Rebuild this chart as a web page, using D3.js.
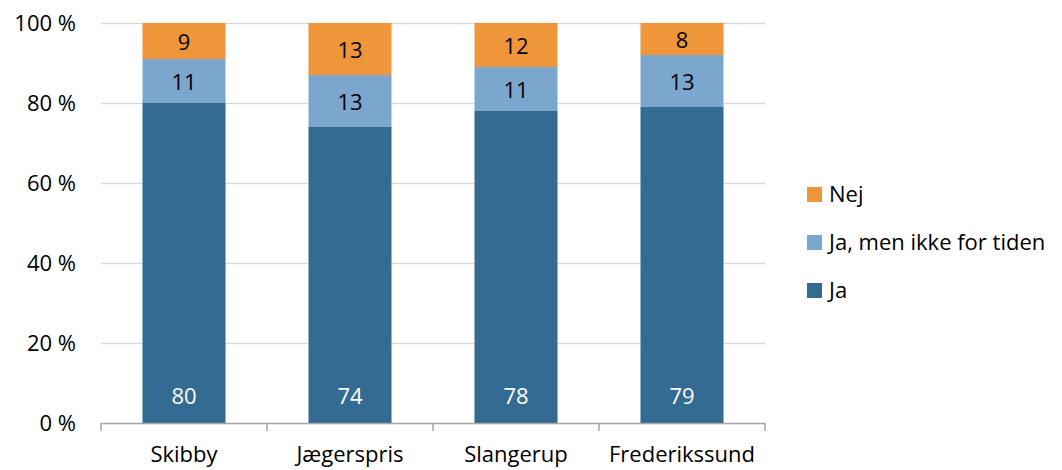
<!DOCTYPE html>
<html>
<head>
<meta charset="utf-8">
<script src="https://cdn.jsdelivr.net/npm/d3@7"></script>
<style>
  body { margin: 0; background: #fff; }
  svg text { font-family: "Open Sans", sans-serif; fill: #000; }
</style>
</head>
<body>
<div id="chart"></div>
<script>
var categories = ["Skibby", "Jægerspris", "Slangerup", "Frederikssund"];
var seriesNames = ["Ja", "Ja, men ikke for tiden", "Nej"];
var ja = [80, 74, 78, 79];
var jaMen = [11, 13, 11, 13];
var nej = [9, 13, 12, 8];
var yTicks = [0, 20, 40, 60, 80, 100];
var colors = ["#336b92", "#7ba7cf", "#f0963a"];

var width = 1062, height = 470;
var fontSize = "22px";

var svg = d3.select("#chart")
    .append("svg")
        .attr("width", width)
        .attr("height", height);

var x = d3.scaleBand()
    .domain(categories)
    .range([101, 765]);

// axis stops at 100 %, anything above is cut off
var y = d3.scaleLinear()
    .domain([0, 100])
    .range([423, 23])
    .clamp(true);

// gridlines
svg.append("g")
    .selectAll("line")
    .data(yTicks.slice(1))
    .enter().append("line")
        .attr("x1", 101)
        .attr("x2", 765)
        .attr("y1", function(d) { return y(d) + 0.5; })
        .attr("y2", function(d) { return y(d) + 0.5; })
        .style("stroke", "#d9d9d9")
        .style("stroke-width", 1.5);

// y tick labels
svg.append("g")
    .selectAll("text")
    .data(yTicks)
    .enter().append("text")
        .attr("x", 76)
        .attr("y", function(d) { return y(d); })
        .attr("dy", "0.35em")
        .attr("text-anchor", "end")
        .style("font-size", fontSize)
        .text(function(d) { return d + " %"; });

var rows = categories.map(function(c, i) {
    return {cat: c, a: ja[i], b: jaMen[i], c: nej[i]};
});
var layers = d3.stack().keys(["a", "b", "c"])(rows);

var barW = x.bandwidth() * 0.5;

layers.forEach(function(layer, li) {
    var g = svg.append("g");
    g.selectAll("rect")
        .data(layer)
        .enter().append("rect")
            .attr("x", function(d) { return x(d.data.cat) + (x.bandwidth() - barW) / 2; })
            .attr("width", barW)
            .attr("y", function(d) { return y(d[1]); })
            .attr("height", function(d) { return y(d[0]) - y(d[1]); })
            .style("fill", colors[li]);
    g.selectAll("text")
        .data(layer)
        .enter().append("text")
            .attr("x", function(d) { return x(d.data.cat) + x.bandwidth() / 2; })
            .attr("y", function(d) {
                if (li === 0) return y(d[0]) - 19;   // inside base
                return (y(d[0]) + y(d[1])) / 2 + 9;
            })
            .attr("text-anchor", "middle")
            .style("font-size", fontSize)
            .style("fill", li === 0 ? "#fff" : "#000")
            .text(function(d) { return d.data[layer.key]; });
});

// x axis
var xAxis = svg.append("g");
xAxis.append("line")
    .attr("x1", 101).attr("x2", 765)
    .attr("y1", 423.5).attr("y2", 423.5)
    .style("stroke", "#a6a6a6").style("stroke-width", 1.5);
xAxis.selectAll(".tick")
    .data(categories.concat(["end"]))
    .enter().append("line")
        .attr("x1", function(d, i) { return 101 + i * x.step(); })
        .attr("x2", function(d, i) { return 101 + i * x.step(); })
        .attr("y1", 423).attr("y2", 431)
        .style("stroke", "#a6a6a6").style("stroke-width", 1.5);
xAxis.selectAll("text")
    .data(categories)
    .enter().append("text")
        .attr("x", function(d) { return x(d) + x.bandwidth() / 2; })
        .attr("y", 462)
        .attr("text-anchor", "middle")
        .style("font-size", fontSize)
        .text(function(d) { return d; });

// legend (reverse order)
var legendItems = [2, 1, 0];
var legend = svg.append("g");
legendItems.forEach(function(si, i) {
    var cy = 194 + i * 48;
    legend.append("rect")
        .attr("x", 807).attr("y", cy - 7)
        .attr("width", 15).attr("height", 15)
        .style("fill", colors[si]);
    legend.append("text")
        .attr("x", 829).attr("y", cy)
        .attr("dy", "0.35em")
        .style("font-size", fontSize)
        .text(seriesNames[si]);
});
</script>
</body>
</html>
